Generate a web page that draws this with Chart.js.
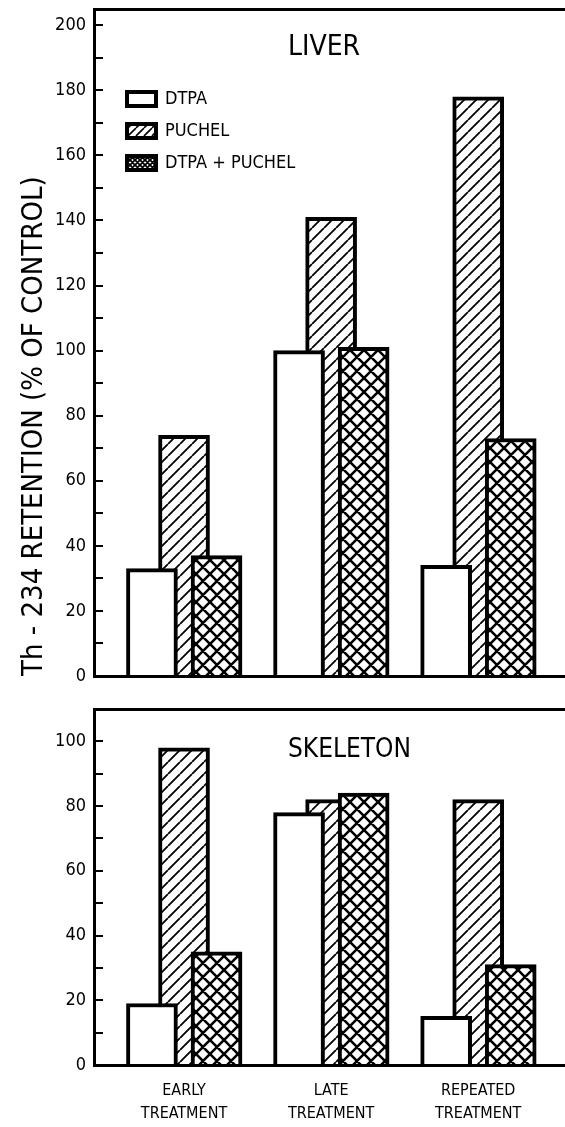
<!DOCTYPE html>
<html>
<head>
<meta charset="utf-8">
<script src="https://cdn.jsdelivr.net/npm/chart.js@4.4.1/dist/chart.umd.min.js"></script>
<style>
  html, body { margin: 0; padding: 0; background: #fff; }
  #wrap { position: relative; width: 565px; height: 1127px; overflow: hidden; }
  #liver { position: absolute; left: 0; top: 0; }
  #skeleton { position: absolute; left: 0; top: 690px; }
</style>
</head>
<body>
<div id="wrap">
  <canvas id="liver" width="565" height="700"></canvas>
  <canvas id="skeleton" width="565" height="437"></canvas>
</div>
<script>
// ---- data ----
const categories = [['EARLY', 'TREATMENT'], ['LATE', 'TREATMENT'], ['REPEATED', 'TREATMENT']];
const seriesNames = ['DTPA', 'PUCHEL', 'DTPA + PUCHEL'];

const liverDTPA = [33, 100, 34];
const liverPuchel = [74, 141, 178];
const liverCombined = [37, 101, 73];

const skeletonDTPA = [19, 78, 15];
const skeletonPuchel = [98, 82, 82];
const skeletonCombined = [35, 84, 31];

const liverMax = 205;
const skeletonMax = 110;
const yTitle = 'Th - 234 RETENTION (% OF CONTROL)';

// ---- layout / style ----
const FONT = "'Liberation Sans Narrow', 'DejaVu Sans Condensed', 'Liberation Sans', sans-serif";
Chart.defaults.font.family = FONT;
Chart.defaults.color = '#000';

const X_MIN = -0.612, X_MAX = 2.59;          // category axis span (in category units)
const SERIES_SHIFT = [-0.218, 0, 0.221];      // bar centre offset within a group
const DRAW_ORDER = [0, 2, 1];                  // PUCHEL drawn underneath its neighbours
const BAR_WIDTH = 51;

function linePattern(step, width, cross) {
  const c = document.createElement('canvas');
  c.width = c.height = step;
  const g = c.getContext('2d');
  g.fillStyle = '#fff';
  g.fillRect(0, 0, step, step);
  g.strokeStyle = '#000';
  g.lineWidth = width;
  g.beginPath();
  for (let k = -1; k <= 1; k++) {
    g.moveTo(k * step, step);
    g.lineTo(k * step + step, 0);
    if (cross) {
      g.moveTo(k * step, 0);
      g.lineTo(k * step + step, step);
    }
  }
  g.stroke();
  return g.createPattern(c, 'repeat');
}

const fills = ['#ffffff', linePattern(12, 1.8, false), linePattern(14, 2.6, true)];
// finer versions of the same fills for the small legend swatches
const swatchFills = ['#ffffff', linePattern(8, 1.6, false), linePattern(5, 1.8, true)];

function buildDatasets(dtpa, puchel, combined) {
  return [dtpa, puchel, combined].map((values, k) => ({
    label: seriesNames[k],
    data: values.map((v, i) => ({ x: i + SERIES_SHIFT[k], y: v })),
    backgroundColor: fills[k],
    borderColor: '#000',
    borderWidth: 4,
    borderSkipped: 'start',
    grouped: false,
    barThickness: BAR_WIDTH,
    order: DRAW_ORDER[k]
  }));
}

function yScale(max, withTitle) {
  return {
    type: 'linear',
    min: 0,
    max: max,
    ticks: {
      stepSize: 10,
      includeBounds: false,
      autoSkip: false,
      padding: 8,
      color: '#000',
      font: { size: 18 },
      callback: v => (v % 20 === 0 ? String(v) : '')
    },
    // short inward tick marks: grid lines dashed down to their first few pixels
    grid: { display: true, drawOnChartArea: true, drawTicks: false, color: '#000', lineWidth: 2 },
    border: { display: true, color: '#000', width: 3, dash: [7, 3000], z: 1 },
    title: withTitle ? {
      display: true,
      text: yTitle,
      align: 'start',
      color: '#000',
      font: { size: 29 },
      padding: { top: 17, bottom: 0 }
    } : { display: false },
    afterFit(s) { s.width = 94; s.paddingTop = 0; s.paddingBottom = 0; }
  };
}

function xScale(withLabels) {
  return {
    type: 'linear',
    position: 'bottom',
    min: X_MIN,
    max: X_MAX,
    offset: false,
    afterBuildTicks(s) { s.ticks = categories.map((_, i) => ({ value: i })); },
    ticks: {
      display: withLabels,
      autoSkip: false,
      maxRotation: 0,
      padding: 14,
      color: '#000',
      font: { size: 16, lineHeight: 1.45 },
      callback: v => categories[v] || ''
    },
    grid: { display: false, drawTicks: false, offset: false },
    border: { display: true, color: '#000', width: 3, z: 1 },
    afterFit(s) { s.height = withLabels ? 62 : 0; s.paddingLeft = 0; s.paddingRight = 0; }
  };
}

const frameTop = {
  type: 'linear',
  position: 'top',
  min: 0,
  max: 1,
  ticks: { display: false },
  grid: { display: false, drawTicks: false },
  border: { display: true, color: '#000', width: 3, z: 1 },
  afterFit(s) { s.height = 0; }
};

// panel name written inside the plot frame
const panelCaption = {
  id: 'panelCaption',
  afterDraw(chart, args, opts) {
    const { ctx, chartArea } = chart;
    ctx.save();
    ctx.font = opts.size + 'px ' + FONT;
    ctx.fillStyle = '#000';
    ctx.textBaseline = 'alphabetic';
    ctx.textAlign = 'left';
    ctx.fillText(opts.text, chartArea.left + opts.dx, chartArea.top + opts.dy);
    ctx.restore();
  }
};

// puts the legend block at a fixed spot inside the plot frame
const legendPlacement = {
  id: 'legendPlacement',
  afterLayout(chart, args, opts) {
    const lg = chart.legend;
    if (!lg || !opts.enabled) return;
    lg.left = chart.chartArea.left + opts.dx;
    lg.top = chart.chartArea.top + opts.dy;
    lg.right = lg.left + 300;
    lg.bottom = lg.top + 160;
  }
};

function legendItems(chart) {
  const items = Chart.defaults.plugins.legend.labels.generateLabels(chart);
  items.forEach(item => { item.fillStyle = swatchFills[item.datasetIndex]; });
  return items;
}

function makeChart(id, data, max, opts) {
  return new Chart(document.getElementById(id), {
    type: 'bar',
    data: { datasets: data },
    plugins: [panelCaption, legendPlacement],
    options: {
      responsive: false,
      animation: false,
      layout: { padding: opts.padding },
      scales: {
        x: xScale(opts.xLabels),
        xTop: frameTop,
        y: yScale(max, opts.yTitle)
      },
      plugins: {
        tooltip: { enabled: false },
        legend: {
          display: opts.legend,
          position: 'chartArea',
          align: 'start',
          labels: {
            boxWidth: 29,
            boxHeight: 14,
            padding: 14,
            color: '#000',
            font: { size: 18 },
            generateLabels: legendItems,
            sort: (a, b) => a.datasetIndex - b.datasetIndex
          }
        },
        legendPlacement: { enabled: opts.legend, dx: 19, dy: 67 },
        panelCaption: opts.caption
      }
    }
  });
}

makeChart('liver', buildDatasets(liverDTPA, liverPuchel, liverCombined), liverMax, {
  padding: { top: 9, bottom: 24, left: 0, right: 0 },
  xLabels: false,
  yTitle: true,
  legend: true,
  caption: { text: 'LIVER', size: 28, dx: 194, dy: 46 }
});

makeChart('skeleton', buildDatasets(skeletonDTPA, skeletonPuchel, skeletonCombined), skeletonMax, {
  padding: { top: 19, bottom: 0, left: 0, right: 0 },
  xLabels: true,
  yTitle: false,
  legend: false,
  caption: { text: 'SKELETON', size: 26, dx: 194, dy: 48 }
});
</script>
</body>
</html>
